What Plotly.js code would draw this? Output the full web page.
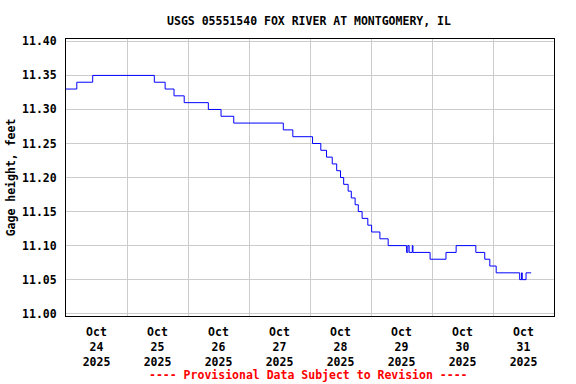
<!DOCTYPE html>
<html>
<head>
<meta charset="utf-8">
<script src="https://cdn.plot.ly/plotly-3.0.1.min.js"></script>
<style>html,body{margin:0;padding:0;background:#fff;}#chart{width:576px;height:384px;}</style>
</head>
<body>
<div id="chart"></div>
<script>
// Step change points (time of change, new gage height in feet)
const times = [
  "2025-10-24 00:00", "2025-10-24 04:15", "2025-10-24 10:30",
  "2025-10-25 10:45", "2025-10-25 15:00", "2025-10-25 18:30", "2025-10-25 22:30",
  "2025-10-26 08:00", "2025-10-26 13:00", "2025-10-26 18:00",
  "2025-10-27 13:30", "2025-10-27 17:15",
  "2025-10-28 01:00", "2025-10-28 04:15", "2025-10-28 06:30", "2025-10-28 08:45",
  "2025-10-28 10:30", "2025-10-28 12:00", "2025-10-28 13:15", "2025-10-28 15:00",
  "2025-10-28 16:15", "2025-10-28 17:45", "2025-10-28 19:00", "2025-10-28 20:30",
  "2025-10-28 22:45",
  "2025-10-29 00:15", "2025-10-29 03:30", "2025-10-29 06:45",
  "2025-10-29 14:00", "2025-10-29 14:30", "2025-10-29 15:00", "2025-10-29 16:15",
  "2025-10-29 16:30", "2025-10-29 23:15",
  "2025-10-30 05:30", "2025-10-30 09:30", "2025-10-30 17:15", "2025-10-30 20:45",
  "2025-10-30 22:45",
  "2025-10-31 01:15", "2025-10-31 10:30", "2025-10-31 11:15", "2025-10-31 11:30",
  "2025-10-31 13:00", "2025-10-31 15:00"
];
const gageHeight = [
  11.33, 11.34, 11.35,
  11.34, 11.33, 11.32, 11.31,
  11.30, 11.29, 11.28,
  11.27, 11.26,
  11.25, 11.24, 11.23, 11.22,
  11.21, 11.20, 11.19, 11.18,
  11.17, 11.16, 11.15, 11.14,
  11.13,
  11.12, 11.11, 11.10,
  11.09, 11.10, 11.09, 11.10,
  11.09, 11.08,
  11.09, 11.10, 11.09, 11.08,
  11.07,
  11.06, 11.05, 11.06, 11.05,
  11.06, 11.06
];
const titleText = "USGS 05551540 FOX RIVER AT MONTGOMERY, IL";
const yTitle = "Gage height, feet";
const footer = "---- Provisional Data Subject to Revision ----";

const fnt = {family: "DejaVu Sans Mono, monospace", size: 11.5, color: "#000", weight: "bold"};

Plotly.newPlot("chart", [{
  x: times, y: gageHeight, type: "scatter", mode: "lines",
  line: {color: "#0000ff", width: 1, shape: "hv"}, hoverinfo: "skip"
}], {
  width: 576, height: 384,
  margin: {l: 65.6, r: 21.6, t: 39.3, b: 68, pad: 0},
  paper_bgcolor: "#fff", plot_bgcolor: "#fff",
  showlegend: false,
  font: fnt,
  title: {text: titleText, font: fnt, x: 309/576, xref: "container", xanchor: "center",
          y: 1 - 20.7/384, yref: "container", yanchor: "middle"},
  xaxis: {
    type: "date", range: ["2025-10-24 00:00", "2025-11-01 00:00"],
    tick0: "2025-10-24", dtick: 86400000, ticklabelmode: "period",
    tickformat: "%b<br>%d<br>%Y", ticks: "", showgrid: true, gridcolor: "#cccccc", gridwidth: 1,
    showline: true, linecolor: "#000", linewidth: 1, mirror: true, zeroline: false,
    tickfont: fnt, ticklabelstandoff: 5
  },
  yaxis: {
    range: [10.9966, 11.4035], tick0: 11.0, dtick: 0.05, tickformat: ".2f",
    ticks: "", showgrid: true, gridcolor: "#cccccc", gridwidth: 1,
    showline: true, linecolor: "#000", linewidth: 1, mirror: true, zeroline: false,
    tickfont: fnt, ticklabelstandoff: 6,
    title: {text: yTitle, font: fnt, standoff: 4}
  },
  annotations: [{
    text: footer, showarrow: false, xref: "paper", yref: "paper",
    x: (308 - 65.6) / 488.8, y: -(375 - 316) / 276.7, xanchor: "center", yanchor: "middle",
    font: {family: fnt.family, size: 11.5, color: "#ff0000", weight: "bold"}
  }]
}, {staticPlot: true, displayModeBar: false});
</script>
</body>
</html>
